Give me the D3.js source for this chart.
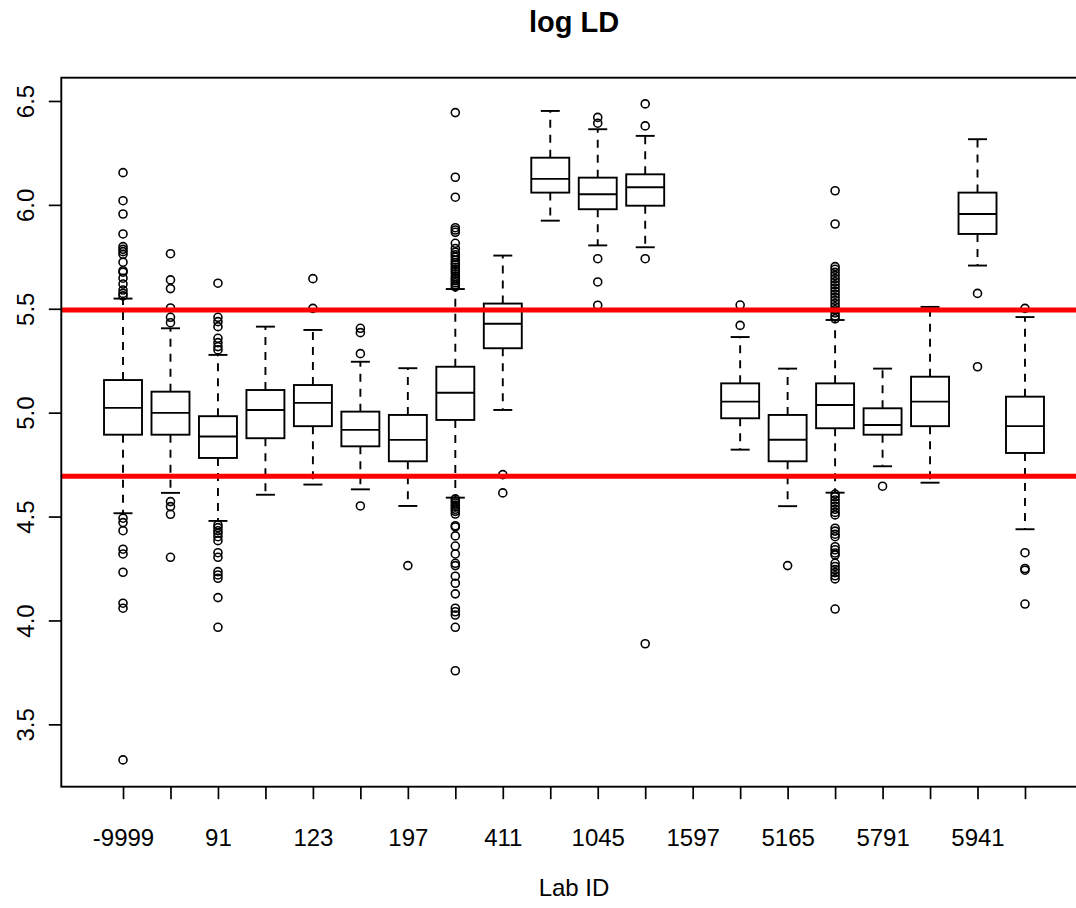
<!DOCTYPE html>
<html>
<head>
<meta charset="utf-8">
<script src="https://cdn.jsdelivr.net/npm/d3@7"></script>
<style>
  body { margin: 0; background: #fff; }
  svg { display: block; font-family: "Liberation Sans", Arial, Helvetica, sans-serif; }
</style>
</head>
<body>
<div id="chart"></div>
<script>
// Lab IDs in plotting order; R dropped every other label because they overlap,
// so the hidden ones are left blank.
const labIds = ["-9999", "", "91", "", "123", "", "197", "", "411", "",
  "1045", "", "1597", "", "5165", "", "5791", "", "5941", ""];

// five-number summaries per lab (null = lab without data)
const lowerWhisker = [4.516, 4.614, 4.479, 4.605, 4.654, 4.631, 4.551, 4.591, 5.013, 5.924,
  5.805, 5.796, null, 4.822, 4.550, 4.615, 4.742, 4.663, 5.708, 4.439];
const lowerHinge = [4.894, 4.894, 4.782, 4.877, 4.935, 4.838, 4.766, 4.965, 5.310, 6.059,
  5.979, 5.996, null, 4.973, 4.766, 4.925, 4.894, 4.935, 5.860, 4.806];
const medians = [5.023, 4.999, 4.885, 5.013, 5.047, 4.917, 4.869, 5.096, 5.428, 6.125,
  6.051, 6.085, null, 5.053, 4.870, 5.037, 4.941, 5.053, 5.956, 4.935];
const upperHinge = [5.157, 5.101, 4.983, 5.109, 5.133, 5.005, 4.989, 5.221, 5.525, 6.227,
  6.131, 6.147, null, 5.141, 4.989, 5.141, 5.021, 5.173, 6.059, 5.077];
const upperWhisker = [5.549, 5.406, 5.278, 5.414, 5.398, 5.245, 5.214, 5.595, 5.756, 6.452,
  6.364, 6.332, null, 5.364, 5.212, 5.446, 5.212, 5.509, 6.316, 5.460];

const outliers = [
  [6.155, 6.020, 5.956, 5.860, 5.799, 5.786, 5.775, 5.762, 5.724, 5.683, 5.676, 5.647, 5.619,
    5.590, 5.574, 5.562, 4.492, 4.471, 4.432, 4.343, 4.320, 4.232, 4.083, 4.059, 3.329],
  [5.765, 5.639, 5.597, 5.504, 5.459, 5.433, 4.572, 4.548, 4.511, 4.304],
  [5.623, 5.459, 5.438, 5.414, 5.358, 5.337, 5.318, 5.302, 4.460, 4.447, 4.432, 4.420, 4.403,
    4.384, 4.326, 4.304, 4.235, 4.219, 4.203, 4.110, 3.967],
  [],
  [5.645, 5.502],
  [5.406, 5.385, 5.284, 4.551],
  [4.264],
  [6.444, 6.133, 6.037, 5.890, 5.879, 5.868, 5.815, 5.790, 5.772, 5.760, 5.748, 5.735, 5.722,
    5.712, 5.700, 5.690, 5.680, 5.668, 5.655, 5.645, 5.635, 5.625, 5.615, 5.605,
    4.585, 4.575, 4.565, 4.555, 4.545, 4.535, 4.525, 4.512, 4.456, 4.450, 4.407, 4.358, 4.320,
    4.275, 4.264, 4.213, 4.179, 4.128, 4.059, 4.042, 4.026, 3.967, 3.758],
  [4.702, 4.614],
  [],
  [6.421, 6.393, 5.741, 5.629, 5.517],
  [6.486, 6.380, 5.741, 3.888],
  [],
  [5.518, 5.420],
  [4.264],
  [6.068, 5.908, 5.703, 5.690, 5.675, 5.660, 5.645, 5.630, 5.615, 5.600, 5.585, 5.570, 5.555,
    5.540, 5.525, 5.510, 5.495, 5.480, 5.465, 5.452,
    4.608, 4.595, 4.580, 4.565, 4.550, 4.535, 4.520, 4.508, 4.444, 4.430, 4.415, 4.403, 4.355,
    4.340, 4.325, 4.315, 4.275, 4.260, 4.245, 4.230, 4.215, 4.200, 4.055],
  [4.646],
  [],
  [5.574, 5.221],
  [5.502, 4.326, 4.250, 4.242, 4.079]
];

// acceptance band drawn in red
const limits = [5.494, 4.694];
const yTicks = [3.5, 4.0, 4.5, 5.0, 5.5, 6.0, 6.5];

const width = 1076;
const height = 908;
const plot = { left: 61.3, right: 1086.7, top: 77.7, bottom: 786.7 };

const groups = labIds.map((id, i) => ({
  id,
  pos: i + 1,
  lw: lowerWhisker[i],
  q1: lowerHinge[i],
  med: medians[i],
  q3: upperHinge[i],
  uw: upperWhisker[i],
  out: outliers[i]
}));

// R style: xlim = c(0.5, n + 0.5) extended by 4 %
const n = labIds.length;
const x = d3.scaleLinear()
  .domain([0.5 - 0.04 * n, n + 0.5 + 0.04 * n])
  .range([plot.left, plot.right]);

const y = d3.scaleLinear()
  .domain([3.2, 6.612])
  .range([plot.bottom, plot.top]);

const boxHalf = x(1.4) - x(1);
const capHalf = boxHalf / 2;

const svg = d3.select("#chart")
  .append("svg")
  .attr("width", width)
  .attr("height", height);

svg.append("defs").append("clipPath").attr("id", "plotClip")
  .append("rect")
  .attr("x", plot.left).attr("y", plot.top)
  .attr("width", plot.right - plot.left).attr("height", plot.bottom - plot.top);

const body = svg.append("g");

const drawn = groups.filter(d => d.med != null);
const g = body.selectAll(".box")
  .data(drawn)
  .enter()
  .append("g")
  .attr("class", "box")
  .style("stroke", "#000")
  .style("stroke-width", 1.9)
  .style("fill", "none");

// whiskers
g.append("line")
  .attr("x1", d => x(d.pos)).attr("x2", d => x(d.pos))
  .attr("y1", d => y(d.q3)).attr("y2", d => y(d.uw))
  .style("stroke-dasharray", "8,7");
g.append("line")
  .attr("x1", d => x(d.pos)).attr("x2", d => x(d.pos))
  .attr("y1", d => y(d.q1)).attr("y2", d => y(d.lw))
  .style("stroke-dasharray", "8,7");
// staples
g.append("line")
  .attr("x1", d => x(d.pos) - capHalf).attr("x2", d => x(d.pos) + capHalf)
  .attr("y1", d => y(d.uw)).attr("y2", d => y(d.uw));
g.append("line")
  .attr("x1", d => x(d.pos) - capHalf).attr("x2", d => x(d.pos) + capHalf)
  .attr("y1", d => y(d.lw)).attr("y2", d => y(d.lw));
// box + median
g.append("rect")
  .attr("x", d => x(d.pos) - boxHalf)
  .attr("y", d => y(d.q3))
  .attr("width", boxHalf * 2)
  .attr("height", d => y(d.q1) - y(d.q3))
  .style("fill", "#fff");
g.append("line")
  .attr("x1", d => x(d.pos) - boxHalf).attr("x2", d => x(d.pos) + boxHalf)
  .attr("y1", d => y(d.med)).attr("y2", d => y(d.med));

// outliers (pch = 1)
g.selectAll("circle")
  .data(d => d.out.map(v => ({ pos: d.pos, v })))
  .enter()
  .append("circle")
  .attr("cx", d => x(d.pos))
  .attr("cy", d => y(d.v))
  .attr("r", 4)
  .style("stroke-width", 1.6);

// limit lines
body.append("g")
  .attr("clip-path", "url(#plotClip)")
  .selectAll("line")
  .data(limits)
  .enter()
  .append("line")
  .attr("x1", plot.left).attr("x2", plot.right)
  .attr("y1", d => y(d)).attr("y2", d => y(d))
  .style("stroke", "#ff0000")
  .style("stroke-width", 5);

// frame
svg.append("rect")
  .attr("x", plot.left).attr("y", plot.top)
  .attr("width", plot.right - plot.left)
  .attr("height", plot.bottom - plot.top)
  .style("fill", "none")
  .style("stroke", "#000")
  .style("stroke-width", 1.9);

// y axis
const yAxis = svg.append("g")
  .attr("transform", `translate(${plot.left},0)`)
  .call(d3.axisLeft(y).tickValues(yTicks).tickSize(12.5).tickFormat(d3.format(".1f")));
yAxis.select(".domain").remove();
yAxis.selectAll(".tick line").style("stroke-width", 1.7);
yAxis.selectAll(".tick text")
  .attr("x", null).attr("dy", null)
  .attr("transform", "translate(-27,0) rotate(-90)")
  .attr("text-anchor", "middle")
  .style("font-size", "24px")
  .style("fill", "#000");

// x axis
const xAxis = svg.append("g")
  .attr("transform", `translate(0,${plot.bottom})`)
  .call(d3.axisBottom(x)
    .tickValues(d3.range(1, n + 1))
    .tickSize(12.5)
    .tickFormat(d => labIds[d - 1]));
xAxis.select(".domain").remove();
xAxis.selectAll(".tick line").style("stroke-width", 1.7);
xAxis.selectAll(".tick text")
  .attr("y", 59).attr("dy", null)
  .style("font-size", "24px")
  .style("fill", "#000");

// titles
svg.append("text")
  .attr("x", (plot.left + plot.right) / 2)
  .attr("y", 32)
  .attr("text-anchor", "middle")
  .style("font-size", "29px")
  .style("font-weight", "bold")
  .text("log LD");

svg.append("text")
  .attr("x", (plot.left + plot.right) / 2)
  .attr("y", 896)
  .attr("text-anchor", "middle")
  .style("font-size", "24px")
  .text("Lab ID");
</script>
</body>
</html>
